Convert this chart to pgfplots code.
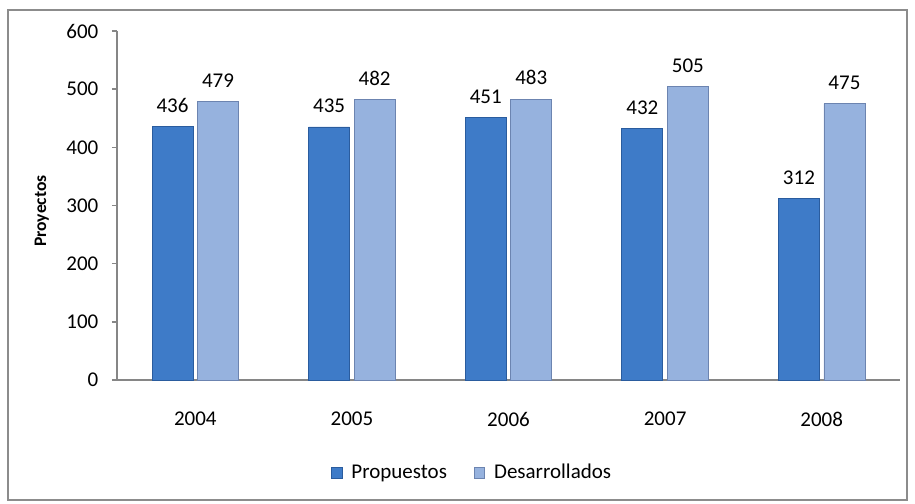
\documentclass[border=0pt]{standalone}
\usepackage{fontspec}
\setmainfont{Carlito}
\usepackage{pgfplots}
\pgfplotsset{compat=1.18}
\definecolor{propBlue}{RGB}{62,123,200}
\definecolor{propEdge}{RGB}{42,92,158}
\definecolor{desBlue}{RGB}{150,178,222}
\definecolor{desEdge}{RGB}{108,132,176}
\definecolor{axGray}{RGB}{134,134,134}
\definecolor{frameGray}{RGB}{140,140,140}

\begin{document}
\begin{tikzpicture}
\path[use as bounding box] (-58.5pt,-61.5pt) rectangle (399pt,190pt);
\draw[frameGray,line width=1.2pt] (-54.5pt,-60pt) rectangle (395pt,185pt);
\begin{axis}[at={(0,0)},anchor=south west,scale only axis,width=391.5pt,height=174.5pt,
  ybar=2.25pt,bar width=20.5pt,
  xmin=-0.5,xmax=4.5,ymin=0,ymax=600,
  xtick=data,xticklabels={2004,2005,2006,2007,2008},
  ytick={0,100,200,300,400,500,600},
  axis x line*=bottom,axis y line*=left,
  x axis line style={draw=axGray,line width=1pt},
  y axis line style={draw=axGray,line width=0.75pt},
  xtick style={draw=none},
  ytick style={draw=axGray,line width=0.75pt},
  tick align=outside,major tick length=2.5pt,
  /pgf/number format/assume math mode=true,
  tick label style={font=\fontsize{10.5}{12}\selectfont,black},
  xticklabel style={yshift=-10pt},
  yticklabel style={xshift=-3.3pt},
  ylabel={\textbf{Proyectos}},
  ylabel style={at={(axis description cs:-0.096,0.484)},anchor=center,font=\fontsize{8.8}{10}\selectfont},
  nodes near coords,
  every node near coord/.append style={font=\fontsize{10.5}{12}\selectfont,black,yshift=3.5pt},
  legend style={draw=none,at={(axis description cs:0.455,-0.266)},anchor=center,legend columns=2,
    font=\fontsize{10.5}{12}\selectfont,/tikz/every even column/.append style={column sep=11.5pt}},
  legend image code/.code={\filldraw[#1,line width=0.3pt] (0pt,-2.6pt) rectangle (5.2pt,2.6pt);\path (7.7pt,0pt);},
]
\addplot[fill=propBlue,draw=propEdge,line width=0.4pt] coordinates {(0,436) (1,435) (2,451) (3,432) (4,312)};
\addlegendentry{Propuestos}
\addplot[fill=desBlue,draw=desEdge,line width=0.4pt] coordinates {(0,479) (1,482) (2,483) (3,505) (4,475)};
\addlegendentry{Desarrollados}
\end{axis}
\end{tikzpicture}
\end{document}
